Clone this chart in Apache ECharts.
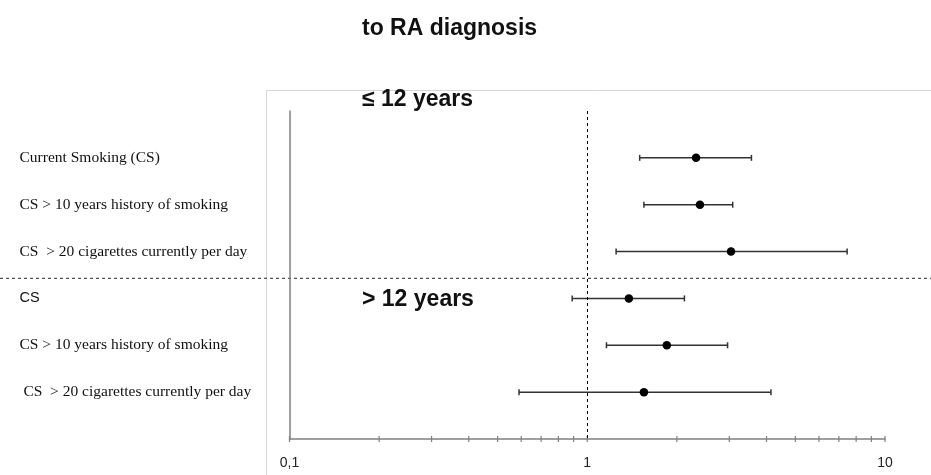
<!DOCTYPE html>
<html>
<head>
<meta charset="utf-8">
<script src="https://cdn.jsdelivr.net/npm/echarts@6/dist/echarts.min.js"></script>
<style>
  html, body { margin: 0; padding: 0; background: #fff; }
  #chart { width: 931px; height: 475px; }
</style>
</head>
<body>
<div id="chart"></div>
<script>
const rowLabels = [
  "Current Smoking (CS)",
  "CS > 10 years history of smoking",
  "CS  > 20 cigarettes currently per day",
  "CS",
  "CS > 10 years history of smoking",
  " CS  > 20 cigarettes currently per day"
];
// rows drawn in sans-serif instead of serif
const sansRows = [3];
const oddsRatio = [2.32, 2.39, 3.04, 1.38, 1.85, 1.55];
const ciLower = [1.50, 1.55, 1.25, 0.89, 1.16, 0.59];
const ciUpper = [3.56, 3.08, 7.46, 2.12, 2.96, 4.14];
const majorTicks = [0.1, 1, 10];
const minorTicks = [0.2, 0.3, 0.4, 0.5, 0.6, 0.7, 0.8, 0.9, 2, 3, 4, 5, 6, 7, 8, 9];
const groupLabels = ["≤ 12 years", "> 12 years"];
const titleText = "to RA diagnosis";
const separatorAt = 3.57;

const chart = echarts.init(document.getElementById("chart"));

const pointData = oddsRatio.map((v, i) => [v, i + 1]);
const ciData = oddsRatio.map((v, i) => [ciLower[i], ciUpper[i], i + 1]);
const tickData = majorTicks.concat(minorTicks).map(v => [v, 7]);

function fmtNum(v) {
  return String(+(+v).toPrecision(3)).replace(".", ",");
}

const groupTextStyle = { fontFamily: "Liberation Sans", fontWeight: "bold", fontSize: 23, fill: "#111", verticalAlign: "middle" };

chart.setOption({
  animation: false,
  title: {
    text: titleText,
    left: 357,
    top: 12,
    textStyle: { fontFamily: "Liberation Sans", fontWeight: "bold", fontSize: 23, color: "#111" }
  },
  grid: { left: 289.5, right: 46, top: 111, bottom: 36 },
  xAxis: {
    type: "log",
    logBase: 10,
    min: 0.1,
    max: 10,
    axisLine: { onZero: false, lineStyle: { color: "#808080", width: 1.5 } },
    axisTick: { show: false },
    splitLine: { show: false },
    axisLabel: {
      margin: 17,
      fontFamily: "Liberation Sans",
      fontSize: 14,
      color: "#222",
      formatter: fmtNum
    }
  },
  yAxis: {
    type: "value",
    min: 0,
    max: 7,
    interval: 1,
    inverse: true,
    axisLine: { show: true, lineStyle: { color: "#808080", width: 1.5 } },
    axisTick: { show: false },
    splitLine: { show: false },
    axisLabel: {
      align: "left",
      margin: 270,
      formatter: v => {
        const i = v - 1;
        if (i < 0 || i >= rowLabels.length) return "";
        return sansRows.includes(i) ? "{sans|" + rowLabels[i] + "}" : "{serif|" + rowLabels[i] + "}";
      },
      rich: {
        serif: { fontFamily: "Liberation Serif", fontSize: 15.5, color: "#111" },
        sans: { fontFamily: "Liberation Sans", fontSize: 14.5, color: "#111" }
      }
    }
  },
  graphic: [
    {
      type: "rect",
      shape: { x: 266.5, y: 90.5, width: 800, height: 500 },
      style: { fill: "none", stroke: "#d6d6d6", lineWidth: 1 },
      z: -1
    },
    {
      type: "text",
      x: 362, y: 100,
      style: Object.assign({ text: groupLabels[0] }, groupTextStyle)
    },
    {
      type: "text",
      x: 362, y: 300,
      style: Object.assign({ text: groupLabels[1] }, groupTextStyle)
    }
  ],
  series: [
    {
      type: "custom",
      name: "ticks",
      data: tickData,
      clip: false,
      silent: true,
      renderItem: (params, api) => {
        const p = api.coord([api.value(0), api.value(1)]);
        return {
          type: "line",
          shape: { x1: p[0], y1: p[1] - 3, x2: p[0], y2: p[1] + 3 },
          style: { stroke: "#808080", lineWidth: 1.2 }
        };
      }
    },
    {
      type: "custom",
      name: "95% CI",
      data: ciData,
      silent: true,
      renderItem: (params, api) => {
        const a = api.coord([api.value(0), api.value(2)]);
        const b = api.coord([api.value(1), api.value(2)]);
        const h = 3;
        const style = { stroke: "#333", lineWidth: 1.5 };
        return {
          type: "group",
          children: [
            { type: "line", shape: { x1: a[0], y1: a[1], x2: b[0], y2: b[1] }, style },
            { type: "line", shape: { x1: a[0], y1: a[1] - h, x2: a[0], y2: a[1] + h }, style },
            { type: "line", shape: { x1: b[0], y1: b[1] - h, x2: b[0], y2: b[1] + h }, style }
          ]
        };
      },
      markLine: {
        silent: true,
        symbol: "none",
        label: { show: false },
        lineStyle: { color: "#000", type: [3, 3], width: 1 },
        data: [{ xAxis: 1 }]
      }
    },
    {
      type: "scatter",
      name: "OR",
      data: pointData,
      symbol: "circle",
      symbolSize: 8.5,
      itemStyle: { color: "#000", opacity: 1 },
      z: 5
    }
  ]
});

// dashed separator between the two groups, across the full width
const sepY = chart.convertToPixel({ yAxisIndex: 0 }, separatorAt);
chart.setOption({
  graphic: [
    {},
    {},
    {},
    {
      type: "line",
      shape: { x1: 0, y1: sepY, x2: 931, y2: sepY },
      style: { stroke: "#222", lineWidth: 1, lineDash: [3, 3] }
    }
  ]
});
</script>
</body>
</html>
